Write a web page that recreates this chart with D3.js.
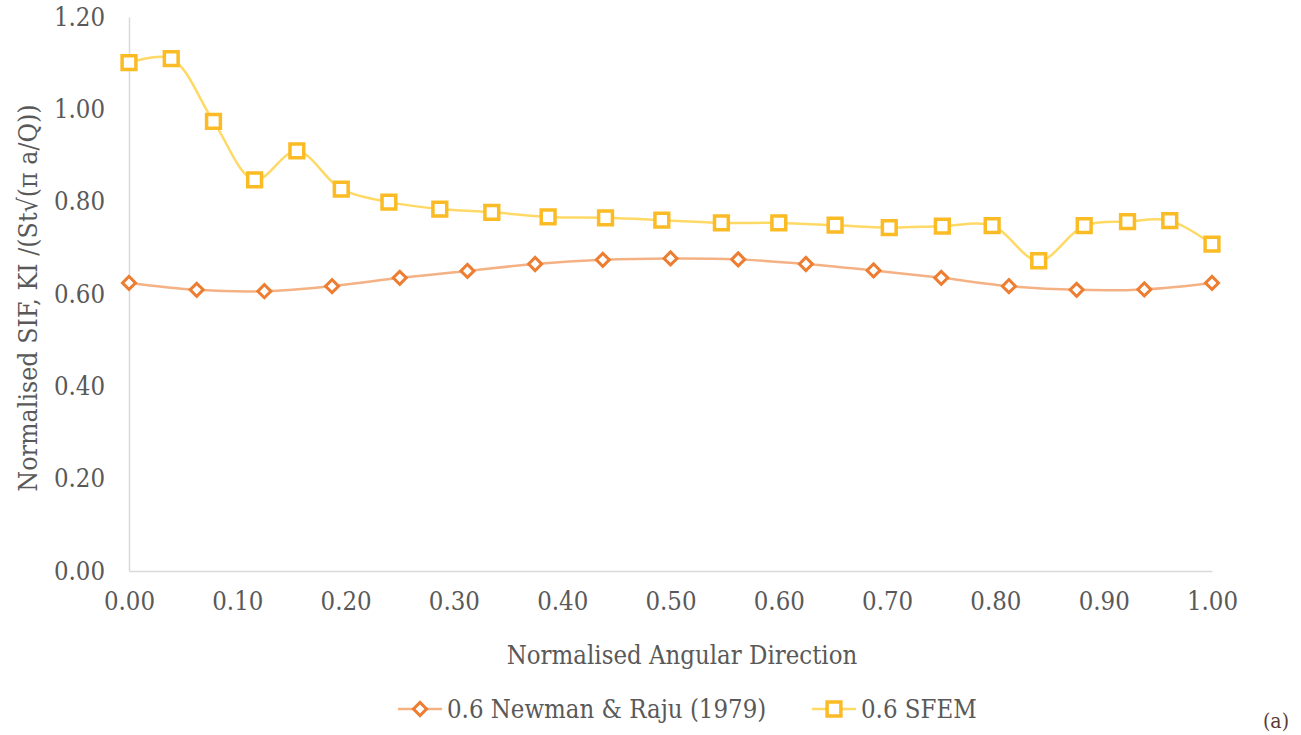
<!DOCTYPE html>
<html>
<head>
<meta charset="utf-8">
<script src="https://cdn.jsdelivr.net/npm/d3@7"></script>
<style>
  html, body { margin: 0; padding: 0; background: #fff; }
  svg { display: block; }
  svg text { font-family: "DejaVu Serif Condensed", "DejaVu Serif", serif; font-stretch: condensed; }
</style>
</head>
<body>
<svg id="chart" width="1301" height="735"></svg>
<script>
// Newman & Raju (1979) reference solution, a/c = 0.6
const newmanX = [0, 0.0625, 0.125, 0.1875, 0.25, 0.3125, 0.375, 0.4375, 0.5,
                 0.5625, 0.625, 0.6875, 0.75, 0.8125, 0.875, 0.9375, 1.0];
const newmanY = [0.624, 0.609, 0.606, 0.617, 0.635, 0.650, 0.665, 0.674, 0.677,
                 0.675, 0.665, 0.651, 0.635, 0.617, 0.609, 0.610, 0.624];

// SFEM results, a/c = 0.6
const sfemX = [0, 0.039, 0.078, 0.116, 0.155, 0.196, 0.240, 0.287, 0.335, 0.387,
               0.440, 0.492, 0.547, 0.600, 0.652, 0.702, 0.751, 0.797, 0.840,
               0.882, 0.922, 0.961, 1.0];
const sfemY = [1.101, 1.110, 0.974, 0.847, 0.910, 0.827, 0.799, 0.784, 0.777, 0.767,
               0.765, 0.760, 0.754, 0.754, 0.749, 0.744, 0.747, 0.748, 0.672,
               0.748, 0.757, 0.759, 0.708];

const xTicks = [0, 0.1, 0.2, 0.3, 0.4, 0.5, 0.6, 0.7, 0.8, 0.9, 1.0];
const yTicks = [0, 0.2, 0.4, 0.6, 0.8, 1.0, 1.2];

const seriesNames = ["0.6 Newman & Raju (1979)", "0.6 SFEM"];
const xTitle = "Normalised Angular Direction";
const yTitle = "Normalised SIF, KI /(St\u221A(\u03C0 a/Q))";

const svg = d3.select("#chart");
const margin = { left: 129, right: 89, top: 17, bottom: 164 };
const W = 1301, H = 735;

const x = d3.scaleLinear().domain([0, 1]).range([margin.left, W - margin.right]);
const y = d3.scaleLinear().domain([0, 1.2]).range([H - margin.bottom, margin.top]);

const textColor = "#595959";
const axisColor = "#d9d9d9";
const fs = "25.5px";

// axes
const xAxis = svg.append("g")
  .attr("transform", `translate(0,${y(0)})`)
  .call(d3.axisBottom(x).tickValues(xTicks).tickFormat(d3.format(".2f")).tickSize(0).tickPadding(21));
const yAxis = svg.append("g")
  .attr("transform", `translate(${x(0)},0)`)
  .call(d3.axisLeft(y).tickValues(yTicks).tickFormat(d3.format(".2f")).tickSize(0).tickPadding(24));

[xAxis, yAxis].forEach(g => {
  g.attr("font-family", null);
  g.select(".domain").attr("stroke", axisColor).attr("stroke-width", 1.5);
  g.selectAll("text")
    .attr("fill", textColor)
    .style("font-size", fs);
});

// axis titles
svg.append("text")
  .attr("x", 682)
  .attr("y", 664)
  .attr("text-anchor", "middle")
  .attr("fill", textColor)
  .style("font-size", fs)
  .text(xTitle);

svg.append("text")
  .attr("transform", `translate(37,298) rotate(-90)`)
  .attr("text-anchor", "middle")
  .attr("fill", textColor)
  .style("font-size", "26.5px")
  .text(yTitle);

const line = d3.line()
  .x(d => x(d[0]))
  .y(d => y(d[1]))
  .curve(d3.curveCatmullRom.alpha(0.5));

const newman = newmanX.map((v, i) => [v, newmanY[i]]);
const sfem = sfemX.map((v, i) => [v, sfemY[i]]);

const orangeLine = "#f4b183", orangeMark = "#ed7d31";
const yellowLine = "#ffd966", yellowMark = "#fbbb24";

svg.append("path").datum(newman)
  .attr("d", line).attr("fill", "none")
  .attr("stroke", orangeLine).attr("stroke-width", 2.5);
svg.append("path").datum(sfem)
  .attr("d", line).attr("fill", "none")
  .attr("stroke", yellowLine).attr("stroke-width", 2.5);

const diamond = d3.symbol().type(d3.symbolSquare).size(85);
const square = d3.symbol().type(d3.symbolSquare).size(190);

svg.append("g").selectAll("path").data(newman).join("path")
  .attr("d", diamond)
  .attr("transform", d => `translate(${x(d[0])},${y(d[1])}) rotate(45)`)
  .attr("fill", "#fff").attr("stroke", orangeMark).attr("stroke-width", 3);

svg.append("g").selectAll("path").data(sfem).join("path")
  .attr("d", square)
  .attr("transform", d => `translate(${x(d[0])},${y(d[1])})`)
  .attr("fill", "#fff").attr("stroke", yellowMark).attr("stroke-width", 3.5);

// legend
const legendY = 709;
const legend = [
  { name: seriesNames[0], x0: 398, lc: orangeLine, mc: orangeMark, sym: diamond, rot: 45 },
  { name: seriesNames[1], x0: 812, lc: yellowLine, mc: yellowMark, sym: square, rot: 0 }
];
legend.forEach(l => {
  svg.append("line")
    .attr("x1", l.x0).attr("x2", l.x0 + 44)
    .attr("y1", legendY).attr("y2", legendY)
    .attr("stroke", l.lc).attr("stroke-width", 2.5);
  svg.append("path")
    .attr("d", l.sym)
    .attr("transform", `translate(${l.x0 + 22},${legendY}) rotate(${l.rot})`)
    .attr("fill", "#fff").attr("stroke", l.mc).attr("stroke-width", l.rot ? 3 : 3.5);
  svg.append("text")
    .attr("x", l.x0 + 49).attr("y", legendY + 9)
    .attr("fill", textColor)
    .style("font-size", fs)
    .text(l.name);
});

// panel label
svg.append("text")
  .attr("x", 1263).attr("y", 728)
  .attr("fill", "#5a3b33")
  .style("font-size", "21px")
  .text("(a)");
</script>
</body>
</html>
